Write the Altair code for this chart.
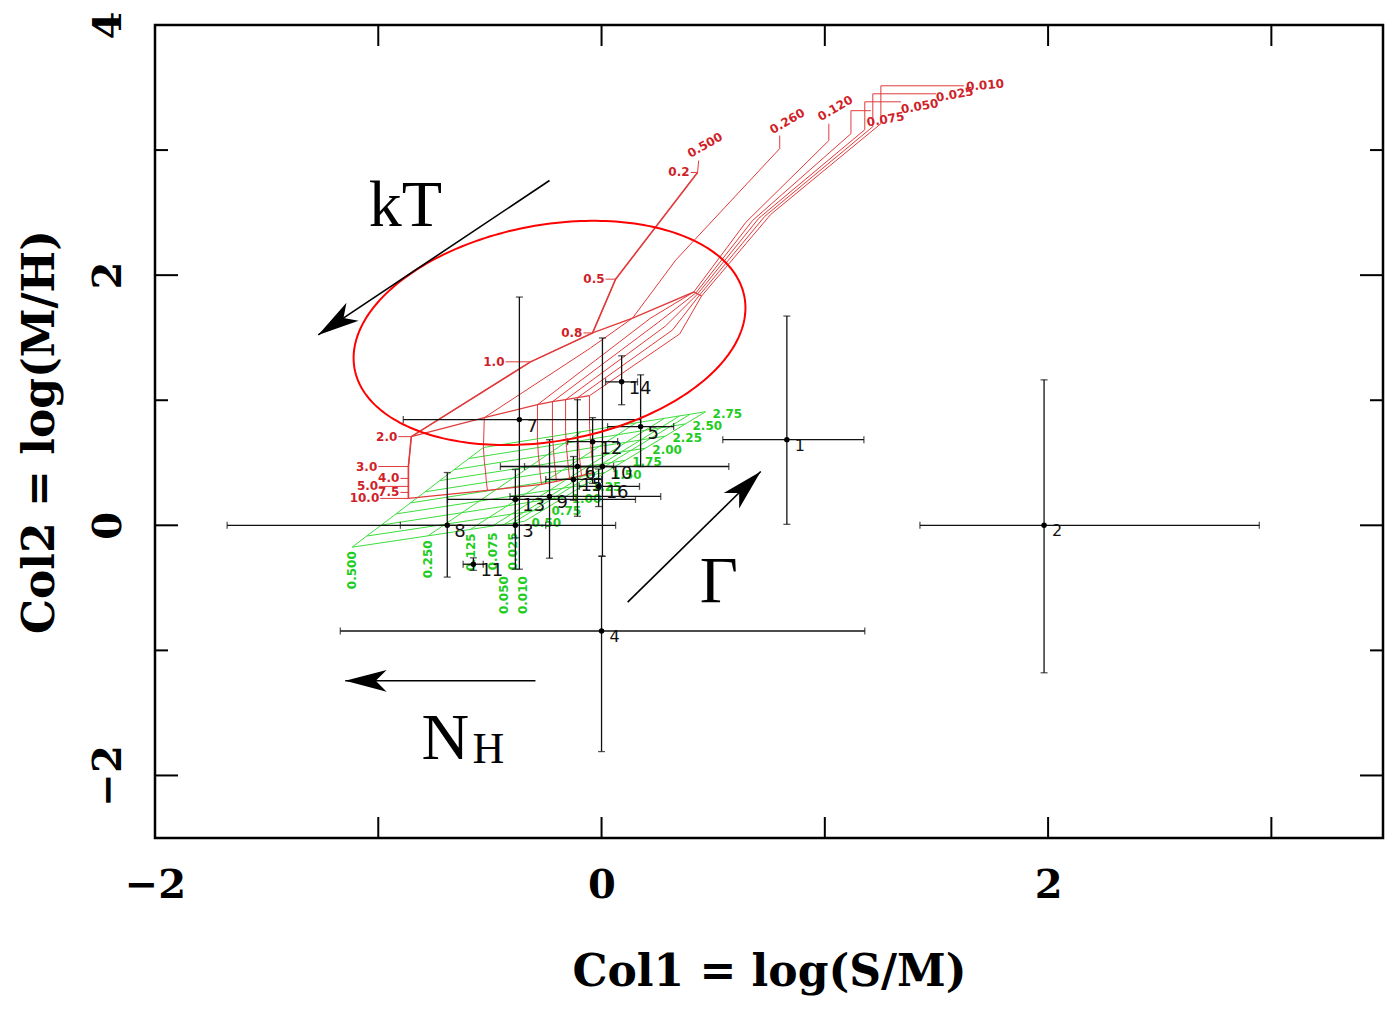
import numpy as np
import pandas as pd
import altair as alt

W, H = 1228, 813
xs = alt.Scale(domain=[-2, 3.5], nice=False, zero=False)
ys = alt.Scale(domain=[-2.5, 4], nice=False, zero=False)

RED_LINE = "#e23b3b"
RED_TEXT = "#d11f2a"
GREEN_LINE = "#3ddc3d"
GREEN_TEXT = "#1fcc1f"

# ---------------- red (thermal) model grid ----------------
red_nh = ["0.500", "0.260", "0.120", "0.075", "0.050", "0.025", "0.010"]
red_kt = ["0.2", "0.5", "0.8", "1.0", "2.0", "3.0", "4.0", "5.0", "7.5", "10.0"]
red_x = {
    "0.500": [0.430, 0.063, -0.040, -0.318, -0.852, -0.865, -0.865, -0.865, -0.865, -0.865],
    "0.260": [0.798, 0.332, 0.139, -0.049, -0.525, -0.529, -0.525, -0.520, -0.516, -0.511],
    "0.120": [1.018, 0.646, 0.413, 0.220, -0.287, -0.287, -0.283, -0.278, -0.274, -0.269],
    "0.075": [1.117, 0.677, 0.422, 0.256, -0.220, -0.220, -0.215, -0.211, -0.206, -0.202],
    "0.050": [1.179, 0.704, 0.430, 0.287, -0.161, -0.161, -0.157, -0.152, -0.148, -0.143],
    "0.025": [1.215, 0.731, 0.439, 0.318, -0.108, -0.108, -0.103, -0.099, -0.094, -0.090],
    "0.010": [1.251, 0.758, 0.448, 0.350, -0.054, -0.054, -0.049, -0.045, -0.040, -0.036],
}
red_y = {
    "0.500": [2.821, 1.968, 1.538, 1.307, 0.709, 0.470, 0.375, 0.311, 0.263, 0.215],
    "0.260": [3.012, 2.120, 1.657, 1.418, 0.861, 0.622, 0.510, 0.438, 0.351, 0.279],
    "0.120": [3.076, 2.422, 1.865, 1.657, 0.964, 0.685, 0.566, 0.478, 0.398, 0.327],
    "0.075": [3.131, 2.438, 1.857, 1.625, 0.988, 0.717, 0.598, 0.502, 0.422, 0.351],
    "0.050": [3.163, 2.454, 1.849, 1.594, 1.004, 0.749, 0.622, 0.526, 0.446, 0.375],
    "0.025": [3.187, 2.470, 1.841, 1.562, 1.020, 0.773, 0.645, 0.550, 0.470, 0.398],
    "0.010": [3.211, 2.486, 1.833, 1.530, 1.036, 0.797, 0.669, 0.574, 0.494, 0.422],
}
red_iso_kt = ["0.8", "2.0", "10.0"]

# leaders from the N_H labels to the kT = 0.2 end of each curve
red_leader_x = {
    "0.010": [1.623, 1.251, 1.251], "0.025": [1.498, 1.215, 1.215],
    "0.050": [1.341, 1.179, 1.179], "0.075": [1.206, 1.117, 1.117],
    "0.120": [1.018, 1.018], "0.260": [0.798, 0.798], "0.500": [0.435, 0.430],
}
red_leader_y = {
    "0.010": [3.514, 3.514, 3.211], "0.025": [3.450, 3.450, 3.187],
    "0.050": [3.386, 3.386, 3.163], "0.075": [3.315, 3.315, 3.131],
    "0.120": [3.211, 3.076], "0.260": [3.116, 3.012], "0.500": [2.916, 2.821],
}
red_nh_lab_x = [0.390, 0.758, 0.973, 1.188, 1.341, 1.498, 1.633]
red_nh_lab_y = [2.964, 3.155, 3.259, 3.219, 3.323, 3.418, 3.506]
red_nh_lab_ang = [330, 330, 330, 350, 350, 350, 355]
red_kt_lab_x = [0.399, 0.018, -0.081, -0.430, -0.910, -1.000, -0.901, -0.996, -0.901, -0.991]

# ---------------- green (power-law) model grid ----------------
grn_nh = ["0.500", "0.250", "0.125", "0.075", "0.050", "0.025", "0.010"]
grn_gamma = ["0.50", "0.75", "1.00", "1.25", "1.50", "1.75", "2.00", "2.25", "2.50", "2.75"]
grn_x = {
    "0.500": [-1.117, -1.052, -0.986, -0.921, -0.856, -0.790, -0.725, -0.660, -0.594, -0.529],
    "0.250": [-0.777, -0.701, -0.625, -0.548, -0.472, -0.396, -0.320, -0.244, -0.167, -0.091],
    "0.125": [-0.587, -0.505, -0.422, -0.340, -0.258, -0.175, -0.093, -0.011, 0.072, 0.154],
    "0.075": [-0.489, -0.403, -0.318, -0.232, -0.147, -0.061, 0.025, 0.110, 0.196, 0.281],
    "0.050": [-0.435, -0.348, -0.261, -0.173, -0.086, 0.001, 0.088, 0.175, 0.263, 0.350],
    "0.025": [-0.399, -0.311, -0.222, -0.134, -0.045, 0.043, 0.131, 0.220, 0.308, 0.397],
    "0.010": [-0.345, -0.255, -0.165, -0.075, 0.015, 0.106, 0.196, 0.286, 0.376, 0.466],
}
grn_y = {
    "0.500": [-0.175, -0.086, 0.002, 0.091, 0.179, 0.268, 0.357, 0.445, 0.534, 0.622],
    "0.250": [-0.084, 0.008, 0.101, 0.193, 0.286, 0.378, 0.470, 0.563, 0.655, 0.748],
    "0.125": [-0.033, 0.062, 0.156, 0.251, 0.346, 0.440, 0.535, 0.630, 0.724, 0.819],
    "0.075": [-0.006, 0.090, 0.185, 0.281, 0.377, 0.473, 0.568, 0.664, 0.760, 0.855],
    "0.050": [0.008, 0.104, 0.201, 0.297, 0.393, 0.490, 0.586, 0.682, 0.779, 0.875],
    "0.025": [0.017, 0.114, 0.211, 0.307, 0.404, 0.501, 0.598, 0.695, 0.791, 0.888],
    "0.010": [0.032, 0.129, 0.227, 0.324, 0.421, 0.519, 0.616, 0.713, 0.811, 0.908],
}
grn_nh_lab_x = [-1.117, -0.776, -0.583, -0.484, -0.439, -0.395, -0.350]
grn_nh_lab_y = [-0.207, -0.120, -0.064, -0.056, -0.406, -0.056, -0.406]

# ---------------- observed sources ----------------
pt_lab = ["1", "2", "4", "7", "12", "5", "14", "6", "10", "15", "16", "9", "13", "3", "8", "11"]
pt_x = [0.830, 1.982, 0.000, -0.368, -0.040, 0.175, 0.090, -0.108, 0.004, -0.126, -0.013, -0.233, -0.386, -0.386, -0.691, -0.574]
pt_y = [0.685, 0.000, -0.845, 0.845, 0.669, 0.789, 1.147, 0.470, 0.470, 0.367, 0.311, 0.231, 0.207, 0.000, 0.000, -0.311]
pt_xlo = [0.543, 1.426, -1.170, -0.888, -0.152, 0.027, 0.018, -0.345, -0.453, -0.250, -0.100, -0.410, -0.690, -0.901, -1.677, -0.620]
pt_xhi = [1.175, 2.946, 1.179, 0.175, 0.072, 0.323, 0.161, 0.054, 0.570, 0.000, 0.170, 0.265, 0.152, 0.063, -0.250, -0.530]
pt_ylo = [0.008, -1.179, -1.809, -0.351, 0.335, 0.470, 0.964, 0.072, -0.247, 0.200, 0.150, -0.263, -0.100, -0.351, -0.414, -0.360]
pt_yhi = [1.673, 1.163, -0.247, 1.825, 0.861, 1.203, 1.355, 1.004, 1.498, 0.550, 0.450, 0.685, 0.446, 0.200, 0.422, -0.260]

# ---------------- annotations ----------------
arrow_x0 = [-0.233, 0.117, -0.296]
arrow_y0 = [2.757, -0.614, -1.243]
arrow_x1 = [-1.269, 0.713, -1.148]
arrow_y1 = [1.522, 0.430, -1.243]
arrow_ang = [236, 45, 270]
ann_text = ["kT", "Γ", "N"]
ann_x = [-0.879, 0.525, -0.700]
ann_y = [2.390, -0.614, -1.865]
sub_text = ["H"]
sub_x = [-0.507]
sub_y = [-1.904]
# ellipse: centre and the two semi-axis vectors (data units)
ell_c = (-0.233, 1.538)
ell_u = (0.873, 0.288)
ell_v = (-0.0888, 0.849)

x_major = [-1, 0, 1, 2, 3]
y_major = [-2, 0, 2]
y_minor = [-1, 1, 3]

# ================= build tables =================
red_rows = []
for j, nh in enumerate(red_nh):
    for i, kt in enumerate(red_kt):
        red_rows.append(dict(nh=nh, kt=kt, i=i, j=j, x=red_x[nh][i], y=red_y[nh][i]))
red_df = pd.DataFrame(red_rows)
red_iso_df = red_df[red_df.kt.isin(red_iso_kt)]
lead_rows = []
for nh in red_nh:
    for k, (lx, ly) in enumerate(zip(red_leader_x[nh], red_leader_y[nh])):
        lead_rows.append(dict(nh=nh, k=k, x=lx, y=ly))
lead_df = pd.DataFrame(lead_rows)
red_nh_lab = pd.DataFrame(dict(t=red_nh, x=red_nh_lab_x, y=red_nh_lab_y, a=red_nh_lab_ang))
kt_nodes = red_df[red_df.nh == "0.500"].reset_index(drop=True)
red_kt_lab = pd.DataFrame(dict(t=red_kt, lx=red_kt_lab_x, nx=kt_nodes.x, y=kt_nodes.y))

grn_rows = []
for j, nh in enumerate(grn_nh):
    for i, g in enumerate(grn_gamma):
        grn_rows.append(dict(nh=nh, g=g, i=i, j=j, x=grn_x[nh][i], y=grn_y[nh][i]))
grn_df = pd.DataFrame(grn_rows)
grn_g_lab = grn_df[grn_df.nh == "0.010"]
grn_nh_lab = pd.DataFrame(dict(t=grn_nh, x=grn_nh_lab_x, y=grn_nh_lab_y))

pts = pd.DataFrame(dict(t=pt_lab, x=pt_x, y=pt_y, xlo=pt_xlo, xhi=pt_xhi, ylo=pt_ylo, yhi=pt_yhi))
xcaps = pd.concat([pts.assign(cx=pts.xlo), pts.assign(cx=pts.xhi)])
ycaps = pd.concat([pts.assign(cy=pts.ylo), pts.assign(cy=pts.yhi)])

arrows = pd.DataFrame(dict(x0=arrow_x0, y0=arrow_y0, x1=arrow_x1, y1=arrow_y1, a=arrow_ang))
ann = pd.DataFrame(dict(t=ann_text, x=ann_x, y=ann_y))
sub = pd.DataFrame(dict(t=sub_text, x=sub_x, y=sub_y))
tt = np.linspace(0, 2 * np.pi, 241)
ell = pd.DataFrame(dict(
    k=np.arange(len(tt)),
    x=ell_c[0] + ell_u[0] * np.cos(tt) + ell_v[0] * np.sin(tt),
    y=ell_c[1] + ell_u[1] * np.cos(tt) + ell_v[1] * np.sin(tt),
))

SERIF = "DejaVu Serif"
x_axis = alt.Axis(values=[-2, 0, 2], ticks=False, domain=False, grid=False, format="d",
                  labelFont=SERIF, labelFontSize=40, labelFontWeight="bold", labelColor="black",
                  labelPadding=27, labelFlush=False, labelOverlap=False, labelBound=False,
                  title="Col1 = log(S/M)", titleFont=SERIF, titleFontSize=44,
                  titleFontWeight="bold", titleColor="black", titlePadding=45)
y_axis = alt.Axis(values=[-2, 0, 2, 4], ticks=False, domain=False, grid=False, format="d",
                  labelFont=SERIF, labelFontSize=40, labelFontWeight="bold", labelColor="black",
                  labelAngle=270, labelAlign="center", labelBaseline="bottom",
                  labelPadding=27, labelFlush=False, labelOverlap=False, labelBound=False,
                  title="Col2 = log(M/H)", titleFont=SERIF, titleFontSize=44,
                  titleFontWeight="bold", titleColor="black", titlePadding=26)


def X(f):
    return alt.X(f, type="quantitative", scale=xs, axis=x_axis)


def Y(f):
    return alt.Y(f, type="quantitative", scale=ys, axis=y_axis)


layers = []

# green grid
layers.append(alt.Chart(grn_df).mark_line(color=GREEN_LINE, strokeWidth=1).encode(
    x=X("x"), y=Y("y"), detail="nh:N", order="i:Q"))
layers.append(alt.Chart(grn_df).mark_line(color=GREEN_LINE, strokeWidth=1).encode(
    x=X("x"), y=Y("y"), detail="g:N", order="j:Q"))
layers.append(alt.Chart(grn_g_lab).mark_text(
    color=GREEN_TEXT, font="DejaVu Sans", fontSize=12, fontWeight="bold",
    align="left", baseline="middle", dx=7, dy=2).encode(x=X("x"), y=Y("y"), text="g:N"))
layers.append(alt.Chart(grn_nh_lab).mark_text(
    color=GREEN_TEXT, font="DejaVu Sans", fontSize=12, fontWeight="bold",
    align="right", baseline="middle", angle=270).encode(x=X("x"), y=Y("y"), text="t:N"))

# red grid
layers.append(alt.Chart(red_df).mark_line(color=RED_LINE, strokeWidth=1).encode(
    x=X("x"), y=Y("y"), detail="nh:N", order="i:Q"))
layers.append(alt.Chart(red_df[red_df.nh == "0.500"]).mark_line(color=RED_LINE, strokeWidth=1.6).encode(
    x=X("x"), y=Y("y"), order="i:Q"))
layers.append(alt.Chart(red_iso_df).mark_line(color=RED_LINE, strokeWidth=1.3).encode(
    x=X("x"), y=Y("y"), detail="kt:N", order="j:Q"))
layers.append(alt.Chart(lead_df).mark_line(color=RED_LINE, strokeWidth=1).encode(
    x=X("x"), y=Y("y"), detail="nh:N", order="k:Q"))
layers.append(alt.Chart(red_nh_lab).mark_text(
    color=RED_TEXT, font="DejaVu Sans", fontSize=12, fontWeight="bold",
    align="left", baseline="middle").encode(
    x=X("x"), y=Y("y"), text="t:N", angle=alt.Angle("a:Q", scale=None)))
layers.append(alt.Chart(red_kt_lab).mark_rule(color=RED_LINE, strokeWidth=1).encode(
    x=X("lx"), x2="nx", y=Y("y")))
layers.append(alt.Chart(red_kt_lab).mark_text(
    color=RED_TEXT, font="DejaVu Sans", fontSize=12, fontWeight="bold",
    align="right", baseline="middle", dx=-1).encode(x=X("lx"), y=Y("y"), text="t:N"))

# data points with error bars
layers.append(alt.Chart(pts).mark_rule(color="#111111", strokeWidth=1.3).encode(
    x=X("xlo"), x2="xhi", y=Y("y")))
layers.append(alt.Chart(pts).mark_rule(color="#111111", strokeWidth=1.3).encode(
    x=X("x"), y=Y("ylo"), y2="yhi"))
layers.append(alt.Chart(xcaps).mark_tick(color="#111111", orient="vertical", size=7, thickness=1.3).encode(
    x=X("cx"), y=Y("y")))
layers.append(alt.Chart(ycaps).mark_tick(color="#111111", orient="horizontal", size=7, thickness=1.3).encode(
    x=X("x"), y=Y("cy")))
layers.append(alt.Chart(pts).mark_point(color="black", filled=True, opacity=1, size=30).encode(
    x=X("x"), y=Y("y")))
layers.append(alt.Chart(pts).transform_filter(
    alt.FieldOneOfPredicate(field="t", oneOf=["1", "2", "4"])).mark_text(
    color="#111111", font="DejaVu Sans", fontSize=16, align="left", baseline="middle",
    dx=8, dy=6).encode(x=X("x"), y=Y("y"), text="t:N"))
layers.append(alt.Chart(pts).transform_filter(
    ~alt.FieldOneOfPredicate(field="t", oneOf=["1", "2", "4"])).mark_text(
    color="#111111", font="DejaVu Sans", fontSize=18, align="left", baseline="middle",
    dx=7, dy=7).encode(x=X("x"), y=Y("y"), text="t:N"))

# annotations
layers.append(alt.Chart(ell).mark_line(color="#ff0000", strokeWidth=2).encode(
    x=X("x"), y=Y("y"), order="k:Q"))
layers.append(alt.Chart(arrows).mark_rule(color="black", strokeWidth=1.6).encode(
    x=X("x0"), y=Y("y0"), x2="x1", y2="y1"))
layers.append(alt.Chart(arrows).mark_point(
    shape="M0,0L0.5,1.9L0,1.4L-0.5,1.9Z", filled=True, color="black", opacity=1,
    size=1900, strokeWidth=0).encode(
    x=X("x1"), y=Y("y1"), angle=alt.Angle("a:Q", scale=None)))
layers.append(alt.Chart(ann).mark_text(
    font="Liberation Serif", fontSize=66, color="black", align="center",
    baseline="alphabetic").encode(x=X("x"), y=Y("y"), text="t:N"))
layers.append(alt.Chart(sub).mark_text(
    font="Liberation Serif", fontSize=44, color="black", align="center",
    baseline="alphabetic").encode(x=X("x"), y=Y("y"), text="t:N"))

# inward ticks on all four sides
xt = pd.DataFrame(dict(v=x_major))
ytm = pd.DataFrame(dict(v=y_major))
ytn = pd.DataFrame(dict(v=y_minor))
TK = dict(color="black", strokeWidth=2)
layers.append(alt.Chart(xt).mark_rule(**TK).encode(x=X("v"), y=alt.value(H), y2=alt.value(H - 21)))
layers.append(alt.Chart(xt).mark_rule(**TK).encode(x=X("v"), y=alt.value(0), y2=alt.value(21)))
layers.append(alt.Chart(ytm).mark_rule(**TK).encode(y=Y("v"), x=alt.value(0), x2=alt.value(23)))
layers.append(alt.Chart(ytm).mark_rule(**TK).encode(y=Y("v"), x=alt.value(W), x2=alt.value(W - 23)))
layers.append(alt.Chart(ytn).mark_rule(**TK).encode(y=Y("v"), x=alt.value(0), x2=alt.value(13)))
layers.append(alt.Chart(ytn).mark_rule(**TK).encode(y=Y("v"), x=alt.value(W), x2=alt.value(W - 13)))

chart = alt.layer(*layers).properties(
    width=W, height=H,
    autosize=alt.AutoSizeParams(type="none"),
    padding={"left": 147, "top": 17, "right": 4, "bottom": 163},
    background="white",
).configure_view(stroke="black", strokeWidth=2.5)

chart.save("out.html", embed_options={"renderer": "svg", "actions": False})
